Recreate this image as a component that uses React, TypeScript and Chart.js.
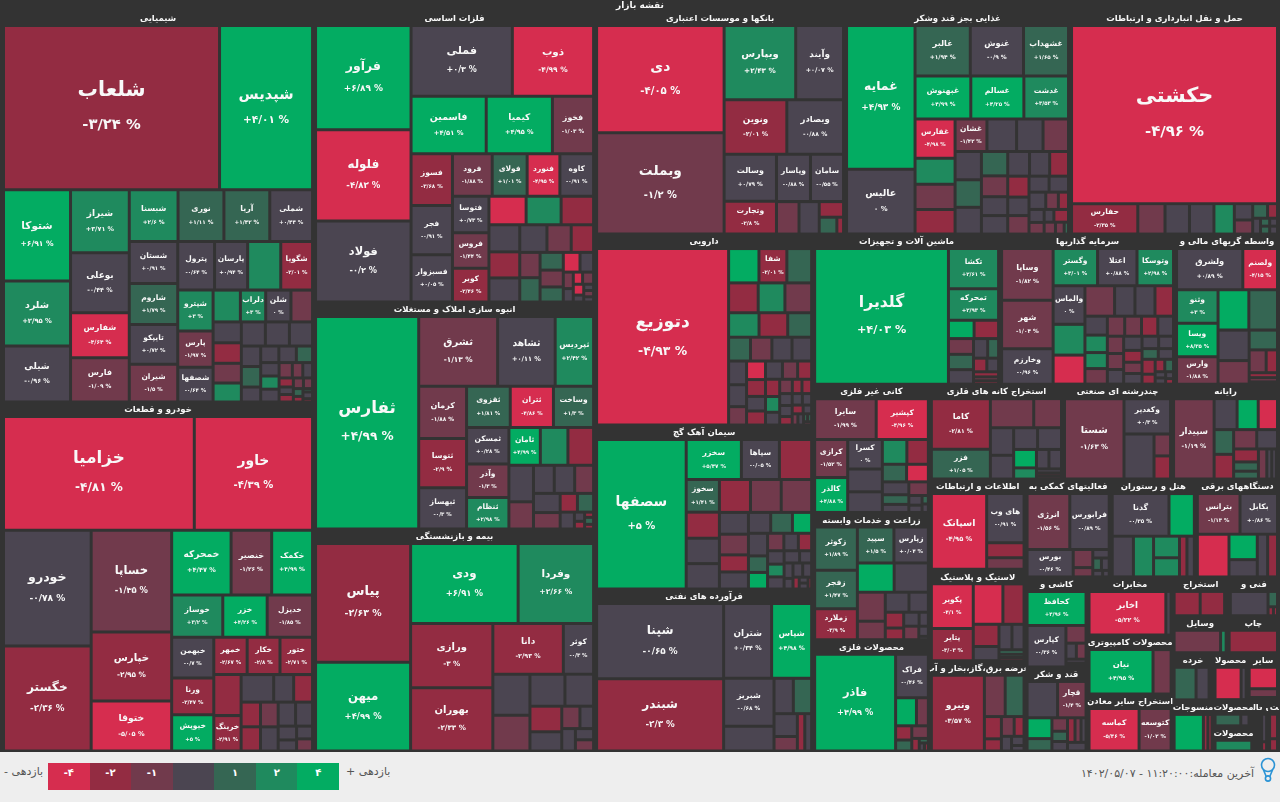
import React, { useEffect, useRef } from "react";
import { Chart, registerables, DatasetController } from "chart.js";

const chemNames = ["شلعاب","شپدیس","شتوکا","شلرد","شیلی","شیراز","بوعلی","شفارس","فارس","شبسنا","نوری","آریا","شملی","شستان","شاروم","تایپکو","شیران","پترول","پارسان","","شگویا","شپترو","پارس","شصفها","","دلراب","شلن"];
const chemSizes = [33100,14250,5700,4060,3500,3450,3280,2470,2420,2350,2210,2210,2060,1900,1850,1800,1700,1670,1500,1500,1440,1350,1190,1150,810,750,750,640,550,540,520,500,540,540,520,370,370,270,280,270,250,230,225,220,190,150,140,120,100,100,100,90,70,50,30,60,30];
const chemChanges = [-3.24,4.01,6.91,2.95,-0.96,3.71,-0.44,-4.64,-1.09,2.6,1.11,1.42,0.44,0.91,1.79,0.72,-1.5,-0.64,0.94,2,-2.01,3,-1.97,-0.64,2,3,0,-1,0,-2,-1,2,0,0,0,0,1,0,0,0,1,0,2,0,-1,-1,0,-2,0,-2,-1,-1,1,-2,1,0,-2];
const chemRows = [2,3,4,4,4,4,3,4,4,3,3,3,3,3,3];

const autoNames = ["خزامیا","خاور","خودرو","خگستر","خساپا","خپارس","ختوقا","خمحرکه","خنصیر","خکمک","خوساز","خزر","خدیزل","خبهمن","ورنا","خیوپش","خمهر","خکار","ختور","","خرینگ"];
const autoSizes = [21300,13200,9980,9030,8060,5450,3950,3780,2580,2600,2130,1850,1890,1680,1520,1500,1220,1200,1190,1100,950,880,540,510,470,460,430,420,410,400,250,200,200,190];
const autoChanges = [-4.81,-4.39,-0.78,-2.36,-1.35,-2.95,-5.05,4.47,-1.26,4.99,3.2,4.26,-1.85,-0.7,-2.47,5,-2.67,-2.8,-2.71,-2,-2.91,0,0,-2,-2,-2,-1,0,0,0,0,0,0,-1];
const autoRows = [2,2,3,3,3,3,3,2,3,2,2,2];

const metalNames = ["فرآور","فلوله","فولاد","فملی","ذوب","فاسمین","کیمیا","فخوز","فسوز","فجر","فسبزوار","فرود","فولای","فنورد","کاوه","فتوسا","فروس","کویر"];
const metalSizes = [9680,8460,7520,6970,5590,4200,3700,2300,2080,1980,1900,1640,1440,1350,1390,1290,1260,1200,1030,970,900,810,780,720,730,650,600,500,480,400,380,340,320,260,160,130,110,130,110,70,60,60,50];
const metalChanges = [6.89,-4.83,-0.2,0.3,-4.99,4.51,4.95,-1.03,-3.68,-0.91,0.05,-1.88,1.01,-4.95,-0.91,0.73,-1.44,-2.46,-4,2,-2,0,-2,0,0,-1,-2,-1,1,1,-1,1,-4,0,-1,0,-4,-1,-4,0,0,-1,0];
const metalRows = [3,2,3,3,4,3,3,3,3,2,3,2];

const estateNames = ["ثفارس","ثشرق","ثشاهد","ثپردیس","کرمان","ثتوسا","ثبهساز","ثقزوی","ثتران","وساخت","ثمسکن","وآذر","ثنظام","ثامان"];
const estateSizes = [21000,5280,3850,2570,2390,2260,1890,1720,1700,1580,1480,1360,1280,1140,1000,930,860,640,560,550,510,490,420,310,290,230,90,75,45,60,40];
const estateChanges = [4.99,-1.13,0.11,2.42,-1.88,-2.9,-0.3,1.81,-4.86,1.3,0.28,-1.3,2.98,4.99,2,-2,0,-1,0,0,-1,0,-1,-2,1,0,0,-2,-2,1,-2];
const estateRows = [1,3,3,3,3,3,2,3,2,2];

const insureNames = ["پیاس","میهن","ودی","وفردا","ورازی","بهوران","دانا","کوثر"];
const insureSizes = [11090,8270,8450,5930,5180,5100,3500,1500,1500,1300,1100,900,800,600,400,300,300,200,200];
const insureChanges = [-2.63,4.99,6.91,2.66,-3,-2.33,-2.93,-0.3,0,-1,0,0,-2,0,-1,0,0,0,-1];
const insureRows = [2,2,2,2];

const bankNames = ["دی","وبملت","ویپارس","وآیند","ونوین","وبصادر","وسالت","وتجارت","وپاسار","سامان"];
const bankSizes = [13360,12600,5180,3460,3340,3020,2400,1680,1575,1530,714,640,370,290,110];
const bankChanges = [-4.05,-1.2,2.43,0.07,-2.01,-0.88,0.79,-2.8,-0.88,-0.55,-1,0,-2,1,-2];
const bankRows = [2,2,2,2,2,1,1];

const foodNames = ["غمایه","عالیس","غالبر","غنوش","غشهداب","غبهنوش","غسالم","غدشت","غفارس","","","","غشان"];
const foodSizes = [9510,4290,2700,2600,2200,2310,2200,1850,1520,1000,980,950,1000,930,830,800,720,700,680,620,530,480,470,520,480,450,430,380,380,310,300,280,210,170,190,170,120,180,130,100,50];
const foodChanges = [4.93,0,1.94,-0.9,1.65,4.99,4.25,3.53,-4.98,2,-1,-2,-1.42,0,0,-1,0,1,0,1,-1,0,0,0,0,-2,-2,0,-1,0,0,0,-1,-2,0,-1,0,-2,-1,-1,1];
const foodRows = [2,3,3,4,4,3,4,3,3,2,3];

const transNames = ["حکشتی","حفارس"];
const transSizes = [35500,1950,800,720,720,600,290,250,210,140,120,70,70,60,60];
const transChanges = [-4.96,-2.35,-1,0,0,2,0,-1,1,-2,0,1,1,0,0];
const transRows = [1,1,1,1,1,1,2];

const pharmaNames = ["دتوزیع","","شفا"];
const pharmaSizes = [21900,980,900,800,830,750,750,700,660,550,490,480,450,440,400,370,310,330,300,260,250,290,260,240,230,210,170,170,130,130,140,130,100,110,100,90,70,60,60,30,30,25];
const pharmaChanges = [-4.93,4,-2.01,1,-2,2,-1,2,-2,1,1,-1,0,0,0,0,-1,-4,-2,0,-2,0,-1,-2,-2,2,0,-1,-2,-2,0,0,-2,0,0,-2,0,-1,0,1,1,-1];
const pharmaRows = [1,3,3,3,4,3,4,3,3,3,3];

const cementNames = ["سصفها","سخزر","سپاها","","سخوز"];
const cementSizes = [12700,2090,1440,1220,1030,820,800,800,970,960,950,600,570,470,470,440,430,380,410,300,300,270,240,220,210,200,190,180,140,130,90,130,120,70,50,50,40];
const cementChanges = [5,5.47,-0.05,-2,1.41,-2,0,0,-2,-1,-1,0,-1,-2,0,0,1,4,0,1,4,-1,0,-2,0,2,0,0,0,0,0,0,0,-2,0,0,-2];
const cementRows = [1,3,4,3,4,3,3,3,3];

const oilNames = ["شپنا","شبندر","شتران","شپاس","شبریز"];
const oilSizes = [9320,8950,3500,2920,2350,1220,665,630,520,330,270,250];
const oilChanges = [-0.65,-2.3,0.34,4.98,-0.68,0,0,1,0,-1,-2,0];
const oilRows = [2,2,2,2,2,2];

const machineNames = ["گلدیرا","تکشا","تمحرکه"];
const machineSizes = [17000,1890,1480,440,420,370,360,340,260,200,170,150,120,90,80];
const machineChanges = [4.03,2.61,2.93,4,-2,-1,1,0,0,1,-2,0,-2,-1,-2];
const machineRows = [1,1,1,2,3,2,2,3];

const investNames = ["وساپا","شهر","وخارزم","وگستر","اعتلا","وتوسکا","والماس"];
const investSizes = [2450,2300,1680,1520,1350,1250,1130,900,850,830,570,560,520,390,360,330,320,320,310,300,290,260,240,220,240,200,190,180,190,170,160,150,180,120,110,100,60,60,50,40];
const investChanges = [-1.82,-1.04,-0.96,3.01,0.88,2.98,0,2,-4,-1,0,0,-2,0,2,2,-1,-1,-1,-2,0,-1,-1,0,0,-2,-1,0,0,0,1,0,-2,-2,-2,1,0,0,0,-2];
const investRows = [3,3,3,4,4,4,3,4];

const brokerNames = ["ولشرق","ولصنم","وثنو","ویسا","وارس"];
const brokerSizes = [2540,1330,1290,1290,1050,1150,1070,880,680,520,360,240,130,110,60];
const brokerChanges = [0.89,-4.15,3,8.35,-1.88,4,1,0,-1,1,-1,-2,-2,-1,2];
const brokerRows = [2,3,2,2,1,2,3];

const nonmetalNames = ["سایرا","کپشیر","کرازی","کالذر","کسرا"];
const nonmetalSizes = [2360,2000,1180,1080,960,740,670,570,500,400,360,320,240,200,250,120,90,50,50];
const nonmetalChanges = [-1.99,-4.96,-1.52,4.88,0,0,0,2,-2,1,-4,0,1,0,-1,0,0,1,0];
const nonmetalRows = [2,2,3,2,2,3];

const miningNames = ["کاما","فزر"];
const miningSizes = [2700,1590,1140,730,580,500,470,470,380,230,220,220,90,70,70];
const miningChanges = [-2.81,1.05,-1,-1,0,0,0,0,4,2,0,0,0,-2,-1];
const miningRows = [2,2,2,2,2,2,3];

const holdingNames = ["شستا","وکغدیر"];
const holdingSizes = [4500,1550,1270,340,360];
const holdingChanges = [-1.63,0.3,0,-1,-2];
const holdingRows = [1,1,1,1,1];

const computerNames = ["سپیدار"];
const computerSizes = [2840,620,570,520,420,420,390,350,280,200,170,220,130,120,30];
const computerChanges = [-1.19,0,4,-4,1,-2,-1,0,-2,1,1,-1,0,0,-2];
const computerRows = [1,3,2,2,3,4];

const farmNames = ["زکوثر","زفجر","زملارد","سپید","زپارس"];
const farmSizes = [1720,1520,1230,1220,1150,1000,930,750,480,440,360,270,200,200,120,190,90,30];
const farmChanges = [1.89,1.47,-3.9,1.5,0.04,4,0,-1,-1,0,0,-2,-2,0,0,-1,0,0];
const farmRows = [3,2,2,2,2,2,2];

const metalProdNames = ["فاذر","فراک"];
const metalProdSizes = [7500,1365,560,320,220,170,200,90,40,40,30];
const metalProdChanges = [4.99,-0.46,4,-1,-2,1,-1,-2,1,0,-2];
const metalProdRows = [1,1,2,2];

const itNames = ["اسپانک","های وب"];
const itSizes = [4070,1780,550,420];
const itChanges = [-4.95,-0.91,-2,-1];
const itRows = [1,1,2];

const serviceNames = ["انرژی","فرابورس","بورس"];
const serviceSizes = [2230,2060,1180,330,170,130,100,90,60,40];
const serviceChanges = [-1.56,-0.89,-0.46,-1,-1,0,1,0,0,0];
const serviceRows = [2,1,2];

const hotelNames = ["گدنا"];
const hotelSizes = [2240,1000,800,760,520,460,280,280];
const hotelChanges = [-0.35,4,0,2,2,2,-2,0];
const hotelRows = [2,1,1,2,2];

const deviceNames = ["بترانس","بکابل"];
const deviceSizes = [1560,1370,1220,650,440,400,380];
const deviceChanges = [-1.13,0.86,-4,4,0,0,-2];
const deviceRows = [2,1,2,2];

const tileNames = ["کحافظ","کپارس"];
const tileSizes = [1800,1450,320,150,140,70,50,20];
const tileChanges = [4.96,-0.36,-1,0,-1,0,-2,1];
const tileRows = [1,1,1,2,3];

const sugarNames = ["","قچار"];
const sugarSizes = [900,840,420,250,170,130,120,150,120,100,130];
const sugarChanges = [0,-1.4,4,1,-1,1,0,-2,-1,0,0];
const sugarRows = [2,2,3,3,1];

const powerNames = ["ونیرو"];
const powerSizes = [3500,750,680,330,180,220,170,130,100,60];
const powerChanges = [-3.57,-1,1,-2,-2,-1,-2,0,0,0];
const powerRows = [1,2,2];

const rubberNames = ["پکویر","پتایر"];
const rubberSizes = [1640,1180,1050,750,500,320,290,270,100,70,70];
const rubberChanges = [-4.1,-3.03,-4,-2,-2,0,0,0,1,1,-2];
const rubberRows = [2,2,2,2,3];

const telecomNames = ["اخابر"];
const telecomSizes = [3200,220];
const telecomChanges = [-5.22,0];
const compProdNames = ["نیان"];
const compProdSizes = [2650,750];
const compProdChanges = [4.95,-1];
const otherMineNames = ["کماسه","کتوسعه"];
const otherMineSizes = [2000,1280];
const otherMineChanges = [-5.46,-1.02];
const sideBySide = [1,1];

const none: string[] = [];
const extractSizes = [480,450,40,10];
const extractChanges = [-2,-2,-2,-2];
const techSizes = [760,120,40,30];
const techChanges = [0,1,-2,-2];
const toolSizes = [920,110];
const toolChanges = [-1,2];
const printSizes = [1000];
const printChanges = [-2];
const retailSizes = [590,350,80];
const retailChanges = [1,0,1];
const textileSizes = [780,120,110];
const textileChanges = [4,-2,-2];
const prodASizes = [620,120];
const prodAChanges = [-4,0];
const otherSizes = [490,200,50];
const otherChanges = [-4,-1,1];
const prodBSizes = [280,90,30];
const prodBChanges = [1,0,0];
const prodCSizes = [100];
const prodCChanges = [2];
const actSizes: number[] = [];
const actChanges: number[] = [];
const biSizes = [30,10];
const biChanges = [0,-2];
const astSizes = [20,10];
const astChanges = [-2,-2];
const oneThenTwo = [1,2];
const allInOne = [4];

const sectorTitles = ["شیمیایی","خودرو و قطعات","فلزات اساسی","انبوه سازی املاک و مستغلات","بیمه و بازنشستگی","بانکها و موسسات اعتباری","غذایی بجز قند وشکر","حمل و نقل انبارداری و ارتباطات","دارویی","سیمان آهک گچ","فرآورده های نفتی","ماشین آلات و تجهیزات","سرمایه گذاریها","واسطه گریهای مالی و","کانی غیر فلزی","زراعت و خدمات وابسته","محصولات فلزی","استخراج کانه های فلزی","چندرشته ای صنعتی","رایانه","اطلاعات و ارتباطات","لاستیک و پلاستیک","عرضه برق،گاز،بخار و آب","فعالیتهای کمکی به","هتل و رستوران","دستگاههای برقی","کاشی و","قند و شکر","مخابرات","محصولات کامپیوتری","استخراج سایر معادن","استخراج","فنی و","وسایل","چاپ","خرده","منسوجات","محصولا","سایر","محصولات","محصولات","فعالیة","یی سا","است ف"];
const sectorWeights = [121992,108888,81771,63787,62382,55750,50175,46607,41638,35752,35316,28050,26250,15600,14976,14859,12987,12635,10355,10150,8640,8736,8640,8330,8330,8134,5580,5208,4950,5015,4845,2184,1950,2035,1900,1927,2091,1600,1470,1040,1000,350,410,560];
const topRows = [2,3,3,3,3,3,3,3,3,2,3,2,2,2,2,2,3];
const sectorNames = [chemNames,autoNames,metalNames,estateNames,insureNames,bankNames,foodNames,transNames,pharmaNames,cementNames,oilNames,machineNames,investNames,brokerNames,nonmetalNames,farmNames,metalProdNames,miningNames,holdingNames,computerNames,itNames,rubberNames,powerNames,serviceNames,hotelNames,deviceNames,tileNames,sugarNames,telecomNames,compProdNames,otherMineNames,none,none,none,none,none,none,none,none,none,none,none,none,none];
const sectorSizes = [chemSizes,autoSizes,metalSizes,estateSizes,insureSizes,bankSizes,foodSizes,transSizes,pharmaSizes,cementSizes,oilSizes,machineSizes,investSizes,brokerSizes,nonmetalSizes,farmSizes,metalProdSizes,miningSizes,holdingSizes,computerSizes,itSizes,rubberSizes,powerSizes,serviceSizes,hotelSizes,deviceSizes,tileSizes,sugarSizes,telecomSizes,compProdSizes,otherMineSizes,extractSizes,techSizes,toolSizes,printSizes,retailSizes,textileSizes,prodASizes,otherSizes,prodBSizes,prodCSizes,actSizes,biSizes,astSizes];
const sectorChanges = [chemChanges,autoChanges,metalChanges,estateChanges,insureChanges,bankChanges,foodChanges,transChanges,pharmaChanges,cementChanges,oilChanges,machineChanges,investChanges,brokerChanges,nonmetalChanges,farmChanges,metalProdChanges,miningChanges,holdingChanges,computerChanges,itChanges,rubberChanges,powerChanges,serviceChanges,hotelChanges,deviceChanges,tileChanges,sugarChanges,telecomChanges,compProdChanges,otherMineChanges,extractChanges,techChanges,toolChanges,printChanges,retailChanges,textileChanges,prodAChanges,otherChanges,prodBChanges,prodCChanges,actChanges,biChanges,astChanges];
const sectorRows = [chemRows,autoRows,metalRows,estateRows,insureRows,bankRows,foodRows,transRows,pharmaRows,cementRows,oilRows,machineRows,investRows,brokerRows,nonmetalRows,farmRows,metalProdRows,miningRows,holdingRows,computerRows,itRows,rubberRows,powerRows,serviceRows,hotelRows,deviceRows,tileRows,sugarRows,sideBySide,sideBySide,sideBySide,[1,1,1,1],sideBySide,sideBySide,allInOne,oneThenTwo,oneThenTwo,[2],oneThenTwo,oneThenTwo,allInOne,allInOne,sideBySide,sideBySide];

const chartTitle = "نقشه بازار";
const legendLabels = ["-۴","-۲","-۱","","۱","۲","۴"];
const FONT = '"DejaVu Sans", sans-serif';

const bandColor = (c: number) => {
  const a = Math.abs(c);
  const pos = c > 0;
  if (a < 1) return "#4b4551";
  if (a < 2) return pos ? "#356653" : "#713a4c";
  if (a < 4) return pos ? "#1f8a5e" : "#932c42";
  return pos ? "#03ac62" : "#d62d4f";
};
const legendColors = ["#d62d4f","#932c42","#713a4c","#4b4551","#356653","#1f8a5e","#03ac62"];

const toFa = (s: string) => s.replace(/\d/g, (d) => "۰۱۲۳۴۵۶۷۸۹"[+d]);
const pctText = (c: number) => {
  const sign = c > 0 ? "+" : c < 0 ? "-" : "";
  return sign + toFa(String(Math.abs(c))).replace(".", "/") + " %";
};

type Box = { x0: number; y0: number; x1: number; y1: number };
// squarified treemap layout working from the values; strips may be fixed by a count list
function squarify(values: number[], box: Box, counts: number[] = []): Box[] {
  const out: Box[] = [];
  let { x0, y0, x1, y1 } = box;
  let remaining = values.reduce((a, b) => a + b, 0);
  const n = values.length;
  let i0 = 0, i1 = 0, strip = 0;
  while (i0 < n) {
    const dx = x1 - x0, dy = y1 - y0;
    let sum = values[i1++], minV = sum, maxV = sum;
    if (strip < counts.length) {
      const end = Math.min(n, i0 + counts[strip]);
      for (; i1 < end; ++i1) sum += values[i1];
    } else {
      const alpha = Math.max(dy / dx, dx / dy) / remaining;
      let beta = sum * sum * alpha;
      let minRatio = Math.max(maxV / beta, beta / minV);
      for (; i1 < n; ++i1) {
        const v = values[i1];
        sum += v;
        if (v < minV) minV = v;
        if (v > maxV) maxV = v;
        beta = sum * sum * alpha;
        const r = Math.max(maxV / beta, beta / minV);
        if (r > minRatio) { sum -= v; break; }
        minRatio = r;
      }
    }
    strip++;
    if (dx < dy) {
      const yb = i1 < n ? y0 + (dy * sum) / remaining : y1;
      let x = x0;
      for (let i = i0; i < i1; i++) {
        const xn = x + ((x1 - x0) * values[i]) / sum;
        out.push({ x0: x, y0, x1: xn, y1: yb });
        x = xn;
      }
      y0 = yb;
    } else {
      const xb = i1 < n ? x0 + (dx * sum) / remaining : x1;
      let y = y0;
      for (let i = i0; i < i1; i++) {
        const yn = y + ((y1 - y0) * values[i]) / sum;
        out.push({ x0, y0: y, x1: xb, y1: yn });
        y = yn;
      }
      x0 = xb;
    }
    remaining -= sum;
    i0 = i1;
  }
  return out;
}

const MAP_W = 1280, MAP_H = 752;
type Cell = Box & { x: number; y: number; name: string; change: number };
const sectorBoxes = squarify(sectorWeights, { x0: 2, y0: 12, x1: 1279, y1: MAP_H }, topRows);
const cells: Cell[] = [];
sectorBoxes.forEach((b, s) => {
  if (!sectorSizes[s].length) return;
  const inner = { x0: b.x0 + 1.5, y0: b.y0 + 13.5, x1: b.x1 - 1.5, y1: b.y1 - 1 };
  squarify(sectorSizes[s], inner, sectorRows[s]).forEach((c, i) => {
    cells.push({ ...c, x: (c.x0 + c.x1) / 2, y: (c.y0 + c.y1) / 2, name: sectorNames[s][i] || "", change: sectorChanges[s][i] });
  });
});

class TreemapController extends (DatasetController as any) {
  static id = "treemap";
  static defaults = { dataElementType: "bar", datasetElementType: false };
  static overrides = { scales: { x: { type: "linear" }, y: { type: "linear" } } };
  update(mode: string) {
    const meta = this._cachedMeta;
    this.updateElements(meta.data, 0, meta.data.length, mode);
  }
  updateElements(els: any[], start: number, count: number) {
    const { xScale, yScale } = this._cachedMeta;
    const data = this.getDataset().data;
    for (let i = start; i < start + count; i++) {
      const d = data[i];
      const l = xScale.getPixelForValue(d.x0) + 1.5;
      const r = xScale.getPixelForValue(d.x1) - 1.5;
      const t = yScale.getPixelForValue(d.y0) + 1.5;
      const b = yScale.getPixelForValue(d.y1) - 1.5;
      Object.assign(els[i], {
        x: (l + r) / 2, y: t, base: Math.max(b, t), width: Math.max(r - l, 0), height: Math.max(b - t, 0),
        horizontal: false, inflateAmount: 0, enableBorderRadius: false, borderSkipped: false,
        options: { backgroundColor: bandColor(d.change), borderColor: "transparent", borderWidth: 0, borderRadius: 0, borderSkipped: false, inflateAmount: 0 },
      });
    }
  }
}

const labelsPlugin = {
  id: "treemapLabels",
  afterDatasetsDraw(chart: any) {
    const ctx = chart.ctx;
    const xs = chart.scales.x, ys = chart.scales.y;
    ctx.save();
    ctx.textAlign = "center";
    ctx.textBaseline = "middle";
    ctx.fillStyle = "#f8f8f8";
    ctx.font = `bold 9px ${FONT}`;
    ctx.fillText(chartTitle, xs.getPixelForValue(MAP_W / 2), ys.getPixelForValue(6));
    sectorBoxes.forEach((b, s) => {
      ctx.font = `bold 8.5px ${FONT}`;
      ctx.save();
      ctx.beginPath();
      ctx.rect(xs.getPixelForValue(b.x0), ys.getPixelForValue(b.y0), xs.getPixelForValue(b.x1) - xs.getPixelForValue(b.x0), 16);
      ctx.clip();
      ctx.fillText(sectorTitles[s], xs.getPixelForValue((b.x0 + b.x1) / 2), ys.getPixelForValue(b.y0 + 7));
      ctx.restore();
    });
    cells.forEach((c) => {
      if (!c.name) return;
      const w = c.x1 - c.x0, h = c.y1 - c.y0;
      const side = Math.sqrt(w * h);
      const f = Math.max(7.5, Math.min(24, 3.5 + side * 0.09));
      const cx = xs.getPixelForValue(c.x), cy = ys.getPixelForValue(c.y);
      const gap = f * 0.85;
      ctx.font = `bold ${f}px ${FONT}`;
      ctx.fillText(c.name, cx, cy - gap);
      ctx.font = `bold ${f * 0.72}px ${FONT}`;
      ctx.fillText(pctText(c.change), cx, cy + gap);
    });
    ctx.restore();
  },
};

export default function App() {
  const ref = useRef<HTMLCanvasElement>(null);
  useEffect(() => {
    document.body.style.margin = "0";
    Chart.register(...registerables, TreemapController as any);
    const chart = new Chart(ref.current as any, {
      type: "treemap" as any,
      data: { datasets: [{ data: cells as any, parsing: false } as any] },
      options: {
        animation: false,
        responsive: false,
        layout: { padding: 0 },
        scales: {
          x: { type: "linear", min: 0, max: MAP_W, display: false },
          y: { type: "linear", min: 0, max: MAP_H, reverse: true, display: false },
        },
        plugins: { legend: { display: false }, tooltip: { enabled: false } },
      },
      plugins: [labelsPlugin as any],
    });
    return () => chart.destroy();
  }, []);
  return (
    <div style={{ width: 1280, height: 802, position: "relative", overflow: "hidden", fontFamily: FONT }}>
      <canvas ref={ref} width={MAP_W} height={MAP_H} style={{ display: "block", background: "#333333" }} />
      <div style={{ position: "absolute", left: 0, top: 752, width: 1280, height: 50, background: "#eeeeee", color: "#555" }}>
        <div style={{ position: "absolute", left: 4, top: 13, fontSize: 11, direction: "rtl" }}>بازدهی -</div>
        <div style={{ position: "absolute", left: 48, top: 11, width: 291, height: 27, display: "flex" }}>
          {legendColors.map((c, i) => (
            <div key={i} style={{ flex: 1, background: c, color: "#fff", fontSize: 10, fontWeight: "bold", textAlign: "center", lineHeight: "20px" }}>{legendLabels[i]}</div>
          ))}
        </div>
        <div style={{ position: "absolute", left: 346, top: 13, fontSize: 11, direction: "rtl" }}>بازدهی +</div>
        <div style={{ position: "absolute", right: 26, top: 15, fontSize: 11, direction: "rtl", whiteSpace: "nowrap" }}>آخرین معامله:۱۱:۲۰:۰۰ - ۱۴۰۲/۰۵/۰۷</div>
        <svg style={{ position: "absolute", left: 1259, top: 5 }} width="18" height="26" viewBox="0 0 18 26">
          <circle cx="9" cy="8" r="6.5" fill="none" stroke="#2a93d5" strokeWidth="1.6" />
          <path d="M4.5 13 L7 19 M13.5 13 L11 19" stroke="#2a93d5" strokeWidth="1.6" fill="none" />
          <circle cx="9" cy="21.5" r="2.6" fill="none" stroke="#2a93d5" strokeWidth="1.6" />
        </svg>
      </div>
    </div>
  );
}
